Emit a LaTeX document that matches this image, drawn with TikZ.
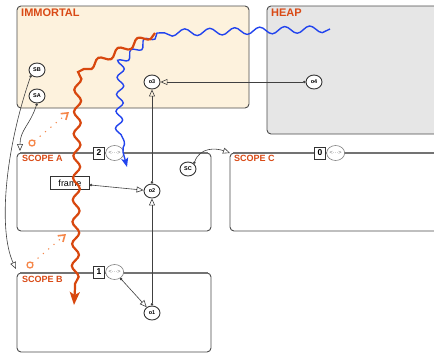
\documentclass[tikz,border=0pt]{standalone}
\usepackage{fontspec}
\setmainfont{Liberation Sans}
\usetikzlibrary{shapes.geometric, arrows.meta, positioning, decorations.pathmorphing}

\definecolor{immortalbg}{HTML}{FDF2DD}
\definecolor{heapbg}{HTML}{E6E6E6}
\definecolor{labelred}{HTML}{D94A16}
\definecolor{threadred}{HTML}{D8470E}
\definecolor{threadblue}{HTML}{2244EE}
\definecolor{hintorange}{HTML}{F5874A}

\begin{document}
\begin{tikzpicture}[x=1pt, y=-1pt,
  region/.style={draw=black!70, line width=0.9pt, rounded corners=4pt},
  scopetop/.style={draw=black!55, line width=1.6pt},
  area/.style={font=\bfseries\fontsize{11}{12}\selectfont, text=labelred, anchor=north west, inner sep=0pt},
  scopename/.style={font=\bfseries\fontsize{9}{10}\selectfont, text=labelred, anchor=north west, inner sep=0pt},
  obj/.style={ellipse, draw=black!80, line width=0.9pt, fill=white, minimum width=16pt, minimum height=14pt, inner sep=0pt, font=\bfseries\fontsize{5.5}{6}\selectfont},
  tag/.style={rectangle, draw=black!80, line width=0.7pt, fill=white, minimum width=11pt, minimum height=12pt, inner sep=0pt, font=\bfseries\fontsize{8.5}{9}\selectfont},
  stack/.style={ellipse, draw=black!50, line width=0.6pt, fill=white, minimum width=18pt, minimum height=15pt, inner sep=0pt, font=\fontsize{5.5}{6}\selectfont, text=black!55},
  ref/.style={draw=black!75, line width=0.6pt, {Circle[length=2.5pt]}-{Triangle[open, length=7pt, width=6pt]}},
  hint/.style={draw=hintorange, line width=1.6pt, line cap=round, dash pattern=on 0pt off 7pt, -{Straight Barb[length=6pt, width=8pt]}},
  redthread/.style={draw=threadred, line width=2.2pt, -{Stealth[length=13pt, width=10pt, inset=3pt]}},
  bluethread/.style={draw=threadblue, line width=1.4pt, -{Stealth[length=9pt, width=7pt, inset=2pt]}},
  wave/.style={decoration={snake, amplitude=#1, segment length=22pt}},
  wave/.default=3.5pt]
  \useasboundingbox[fill=white] (0,0) rectangle (434,356);

  % regions
  \draw[region, fill=immortalbg] (17,6) rectangle (249,108);
  \draw[region, fill=heapbg] (267,6) rectangle (440,134);
  \node[area] (immortal) at (21,9) {IMMORTAL};
  \node[area] (heap) at (271,9) {HEAP};

  % scopes
  \draw[region] (17,153) rectangle (211,231);
  \draw[region] (230,153) rectangle (440,231);
  \draw[region] (17,273) rectangle (211,352);
  \draw[scopetop] (20,153) -- (208,153);
  \draw[scopetop] (233,153) -- (434,153);
  \draw[scopetop] (20,273) -- (208,273);
  \node[scopename] (scopeA) at (22,155) {SCOPE A};
  \node[scopename] (scopeC) at (234,155) {SCOPE C};
  \node[scopename] (scopeB) at (22,276) {SCOPE B};
  \coordinate (cornerA) at (20,151);
  \coordinate (cornerB) at (16,269);
  \coordinate (cornerC) at (230,153);

  % scope depths
  \node[tag] (tagA) at (99,153) {2};
  \node[stack, right=0.5pt of tagA] (stackA) {<···>};
  \node[tag] (tagC) at (320,153) {0};
  \node[stack, right=0.5pt of tagC] (stackC) {<···>};
  \node[tag] (tagB) at (99,272) {1};
  \node[stack, right=0.5pt of tagB] (stackB) {<···>};

  % objects
  \node[obj] (sb) at (37,70) {SB};
  \node[obj] (sa) at (37,96) {SA};
  \node[obj] (o3) at (152,82) {o3};
  \node[obj] (o4) at (314,82) {o4};
  \node[obj] (sc) at (188,169) {SC};
  \node[obj] (o2) at (152,191) {o2};
  \node[obj] (o1) at (152,313) {o1};
  \node[rectangle, draw=black!80, line width=0.8pt, fill=white, minimum width=39pt, minimum height=13pt, inner sep=0pt, font=\fontsize{9}{10}\selectfont] (frame) at (70,183) {frame};

  % references
  \draw[ref] (o4) -- (o3);
  \draw[ref] (o2) -- (o3);
  \draw[ref] (o1) -- (o2);
  \draw[ref] (frame) -- (o2);
  \draw[ref] (stackB) -- (o1);
  \draw[ref] (sc.north east) .. controls (200,147) and (216,148) .. (cornerC);
  \draw[ref] (sa.south) .. controls (30,125) and (20,130) .. (cornerA);
  \draw[ref] (sb.south west) .. controls (5,150) and (-2,230) .. (cornerB);

  % pending moves
  \node[circle, draw=hintorange, line width=1.3pt, minimum size=6pt, inner sep=0pt] (ptA) at (32,143) {};
  \node[circle, draw=hintorange, line width=1.3pt, minimum size=6pt, inner sep=0pt] (ptB) at (30,265) {};
  \coordinate (hintA) at (69,112);
  \coordinate (hintB) at (66,234);
  \draw[hint] (ptA) -- (hintA);
  \draw[hint] (ptB) -- (hintB);

  % threads
  \draw[bluethread] decorate[wave={3.5pt}, decoration={segment length=25pt}] {(330,29) -- (157,33)}
    decorate[wave={3.5pt}, decoration={segment length=17pt}] {-- (126,58) -- (123,152)} -- (127,167);
  \draw[redthread] decorate[wave={3.5pt}] {(155,33) -- (78,72)}
    decorate[wave={3.5pt}, decoration={segment length=22pt}] {-- (75,288)} -- (74,305);
\end{tikzpicture}
\end{document}
